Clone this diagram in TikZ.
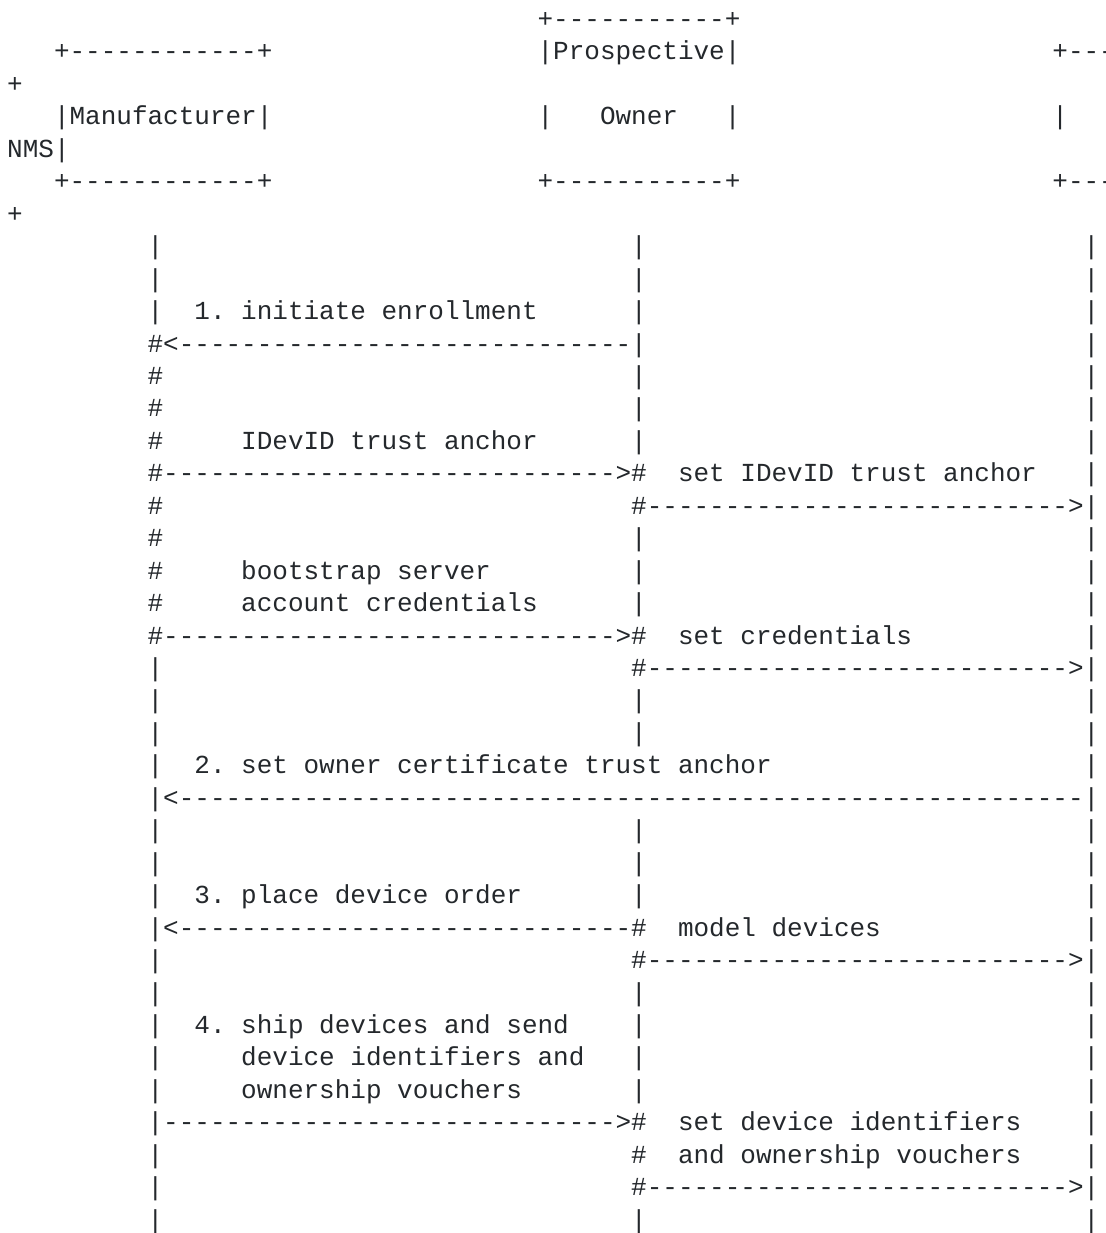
\documentclass[tikz,border=0pt]{standalone}
\usepackage{fontspec}
\setmonofont{Liberation Mono}
\definecolor{ink}{HTML}{24282C}
\newcommand\repch[2]{\ifnum#1>0 #2\expandafter\repch\expandafter{\the\numexpr#1-1\relax}{#2}\fi}
\tikzset{
  txt/.style={anchor=base west, inner sep=0pt, outer sep=0pt,
    font=\ttfamily\fontsize{26}{26}\selectfont, text=ink}
}
% \Tx{row}{column}{text}
\newcommand\Tx[3]{\node[txt] (t#1x#2) at ({(7.2+15.6*#2)*1pt},{-(27.5+32.45*#1)*1pt}) {#3};}
\newcommand\Pipes[1]{\Tx{#1}{9}{|}\Tx{#1}{40}{|}\Tx{#1}{69}{|}}
\begin{document}
\begin{tikzpicture}
\fill[white] (0,0) rectangle (1105pt,-1233pt);
\useasboundingbox (0,0) rectangle (1105pt,-1233pt);
% header boxes (wrapped ASCII art)
\Tx{0}{34}{+\repch{11}{-}+}
\Tx{1}{3}{+\repch{12}{-}+}
\Tx{1}{34}{|Prospective|}
\Tx{1}{67}{+\repch{3}{-}}
\Tx{2}{0}{+}
\Tx{3}{3}{|Manufacturer|}
\Tx{3}{34}{|}
\Tx{3}{38}{Owner}
\Tx{3}{46}{|}
\Tx{3}{67}{|}
\Tx{4}{0}{NMS|}
\Tx{5}{3}{+\repch{12}{-}+}
\Tx{5}{34}{+\repch{11}{-}+}
\Tx{5}{67}{+\repch{3}{-}}
\Tx{6}{0}{+}
% lifelines and messages
\Pipes{7}
\Pipes{8}
\Tx{9}{9}{|}\Tx{9}{12}{1. initiate enrollment}\Tx{9}{40}{|}\Tx{9}{69}{|}
\Tx{10}{9}{\#<\repch{29}{-}|}\Tx{10}{69}{|}
\Tx{11}{9}{\#}\Tx{11}{40}{|}\Tx{11}{69}{|}
\Tx{12}{9}{\#}\Tx{12}{40}{|}\Tx{12}{69}{|}
\Tx{13}{9}{\#}\Tx{13}{15}{IDevID trust anchor}\Tx{13}{40}{|}\Tx{13}{69}{|}
\Tx{14}{9}{\#\repch{29}{-}>\#}\Tx{14}{43}{set IDevID trust anchor}\Tx{14}{69}{|}
\Tx{15}{9}{\#}\Tx{15}{40}{\#\repch{27}{-}>|}
\Tx{16}{9}{\#}\Tx{16}{40}{|}\Tx{16}{69}{|}
\Tx{17}{9}{\#}\Tx{17}{15}{bootstrap server}\Tx{17}{40}{|}\Tx{17}{69}{|}
\Tx{18}{9}{\#}\Tx{18}{15}{account credentials}\Tx{18}{40}{|}\Tx{18}{69}{|}
\Tx{19}{9}{\#\repch{29}{-}>\#}\Tx{19}{43}{set credentials}\Tx{19}{69}{|}
\Tx{20}{9}{|}\Tx{20}{40}{\#\repch{27}{-}>|}
\Pipes{21}
\Pipes{22}
\Tx{23}{9}{|}\Tx{23}{12}{2. set owner certificate trust anchor}\Tx{23}{69}{|}
\Tx{24}{9}{|<\repch{58}{-}|}
\Pipes{25}
\Pipes{26}
\Tx{27}{9}{|}\Tx{27}{12}{3. place device order}\Tx{27}{40}{|}\Tx{27}{69}{|}
\Tx{28}{9}{|<\repch{29}{-}\#}\Tx{28}{43}{model devices}\Tx{28}{69}{|}
\Tx{29}{9}{|}\Tx{29}{40}{\#\repch{27}{-}>|}
\Pipes{30}
\Tx{31}{9}{|}\Tx{31}{12}{4. ship devices and send}\Tx{31}{40}{|}\Tx{31}{69}{|}
\Tx{32}{9}{|}\Tx{32}{15}{device identifiers and}\Tx{32}{40}{|}\Tx{32}{69}{|}
\Tx{33}{9}{|}\Tx{33}{15}{ownership vouchers}\Tx{33}{40}{|}\Tx{33}{69}{|}
\Tx{34}{9}{|\repch{29}{-}>\#}\Tx{34}{43}{set device identifiers}\Tx{34}{69}{|}
\Tx{35}{9}{|}\Tx{35}{40}{\#}\Tx{35}{43}{and ownership vouchers}\Tx{35}{69}{|}
\Tx{36}{9}{|}\Tx{36}{40}{\#\repch{27}{-}>|}
\Pipes{37}
\end{tikzpicture}
\end{document}
